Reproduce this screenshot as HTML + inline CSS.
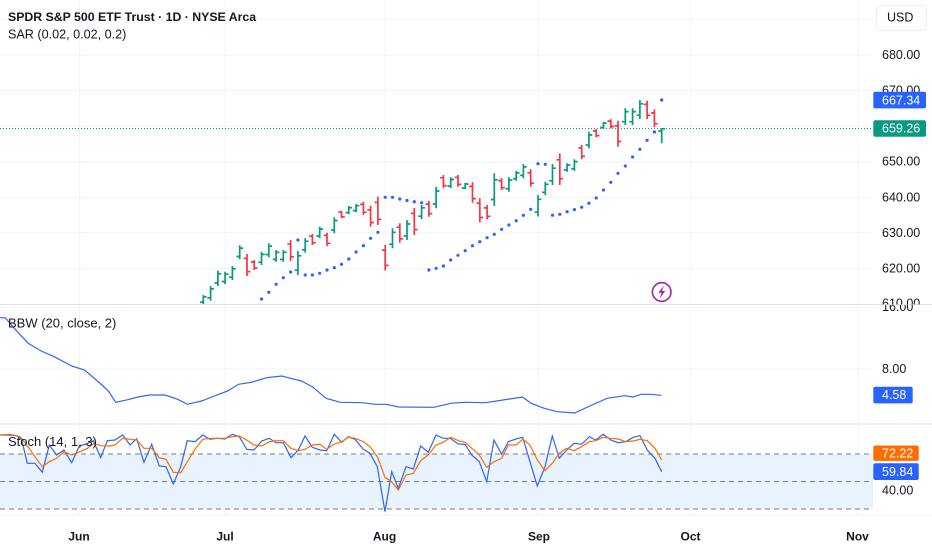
<!DOCTYPE html>
<html><head><meta charset="utf-8"><style>
html,body{margin:0;padding:0;background:#fff;}
svg{display:block;font-family:"Liberation Sans",Arial,sans-serif;}
</style></head><body>
<svg width="932" height="550" viewBox="0 0 932 550" xmlns="http://www.w3.org/2000/svg">
<defs>
<clipPath id="cm"><rect x="0" y="0" width="873" height="304.5"/></clipPath>
<clipPath id="cb"><rect x="0" y="305" width="873" height="119"/></clipPath>
<clipPath id="cs"><rect x="0" y="424.5" width="873" height="90"/></clipPath>
<clipPath id="c610"><rect x="873" y="290" width="59" height="14.5"/></clipPath>
<clipPath id="c16"><rect x="873" y="305" width="59" height="15"/></clipPath>
</defs>
<rect width="932" height="550" fill="#fff"/>
<g stroke="#f0f3fa" stroke-width="1">
<line x1="79.6" y1="0" x2="79.6" y2="515"/>
<line x1="225.1" y1="0" x2="225.1" y2="515"/>
<line x1="385.2" y1="0" x2="385.2" y2="515"/>
<line x1="538" y1="0" x2="538" y2="515"/>
<line x1="690.8" y1="0" x2="690.8" y2="515"/>
<line x1="858" y1="0" x2="858" y2="515"/>
</g>
<g stroke="#f0f3fa" stroke-width="1">
<line x1="0" y1="19.4" x2="873" y2="19.4"/>
<line x1="0" y1="55" x2="873" y2="55"/>
<line x1="0" y1="90.6" x2="873" y2="90.6"/>
<line x1="0" y1="126.1" x2="873" y2="126.1"/>
<line x1="0" y1="161.7" x2="873" y2="161.7"/>
<line x1="0" y1="197.3" x2="873" y2="197.3"/>
<line x1="0" y1="232.8" x2="873" y2="232.8"/>
<line x1="0" y1="268.4" x2="873" y2="268.4"/>
<line x1="0" y1="307.5" x2="873" y2="307.5"/>
<line x1="0" y1="369" x2="873" y2="369"/>
<line x1="0" y1="490.7" x2="873" y2="490.7"/>
</g>
<g stroke="#e0e3eb" stroke-width="1">
<line x1="0" y1="304.5" x2="932" y2="304.5"/>
<line x1="0" y1="424" x2="932" y2="424"/>
<line x1="0" y1="515" x2="932" y2="515" stroke="#f0f3fa"/>
</g>

<g clip-path="url(#cm)">
<line x1="0" y1="128.5" x2="873" y2="128.5" stroke="#089981" stroke-width="1" stroke-dasharray="1 2"/>
<path fill="none" stroke="#089981" stroke-width="1.7" d="M203.3 295V304M200 302.2h3.3M203.3 296.8h3.3
M210.6 286V300.7M207.3 297.8h3.3M210.6 288.9h3.3
M217.9 270.7V286M214.6 282.9h3.3M217.9 273.8h3.3
M225.1 271.7V284M221.8 281.5h3.3M225.1 274.2h3.3
M232.4 266V280M229.1 277.2h3.3M232.4 268.8h3.3
M239.7 245.3V259.3M236.4 256.5h3.3M239.7 248.1h3.3
M261.5 251.7V265M258.2 262.3h3.3M261.5 254.4h3.3
M268.8 243.3V257.3M265.5 254.5h3.3M268.8 246.1h3.3
M276.1 250V261.7M272.8 259.4h3.3M276.1 252.3h3.3
M283.3 250V261.7M280 259.4h3.3M283.3 252.3h3.3
M297.9 251V275M294.6 270.2h3.3M297.9 255.8h3.3
M305.2 238.3V252.7M301.9 249.8h3.3M305.2 241.2h3.3
M319.7 226.7V238.3M316.4 236h3.3M319.7 229h3.3
M334.3 217.3V233.3M331 230.1h3.3M334.3 220.5h3.3
M348.8 206V214.3M345.5 212.6h3.3M348.8 207.7h3.3
M356.1 204V212.3M352.8 210.6h3.3M356.1 205.7h3.3
M392.5 228.3V248.3M389.2 244.3h3.3M392.5 232.3h3.3
M407 220V240M403.7 236h3.3M407 224h3.3
M421.6 205V219M418.3 216.2h3.3M421.6 207.8h3.3
M436.1 186.7V208.3M432.8 204h3.3M436.1 191h3.3
M450.7 177.3V188.3M447.4 186.1h3.3M450.7 179.5h3.3
M465.2 182.7V189.3M461.9 188h3.3M465.2 184h3.3
M494.3 173.3V206M491 199.5h3.3M494.3 179.8h3.3
M508.9 177.3V191.7M505.6 188.8h3.3M508.9 180.2h3.3
M516.2 171V180.7M512.9 178.8h3.3M516.2 172.9h3.3
M523.4 164V178.3M520.1 175.4h3.3M523.4 166.9h3.3
M538 195V216.5M534.7 212.2h3.3M538 199.3h3.3
M545.3 181.7V195M542 192.3h3.3M545.3 184.4h3.3
M552.5 164V185M549.2 180.8h3.3M552.5 168.2h3.3
M567.1 163.3V171.7M563.8 170h3.3M567.1 165h3.3
M574.4 159.3V171M571.1 168.7h3.3M574.4 161.6h3.3
M588.9 131.7V148.3M585.6 145h3.3M588.9 135h3.3
M603.5 121.7V129M600.2 127.5h3.3M603.5 123.2h3.3
M625.3 108.3V125M622 121.7h3.3M625.3 111.6h3.3
M632.6 108.3V125M629.3 121.7h3.3M632.6 111.6h3.3
M639.9 100V119M636.6 115.2h3.3M639.9 103.8h3.3
M661.7 128.3V143.3M658.4 131h3.3M661.7 128.8h3.3"/>
<path fill="none" stroke="#f23645" stroke-width="1.7" d="M247 254V276M243.7 258.4h3.3M247 271.6h3.3
M254.2 260V270M250.9 262h3.3M254.2 268h3.3
M290.6 240V261M287.3 244.2h3.3M290.6 256.8h3.3
M312.4 234V245M309.1 236.2h3.3M312.4 242.8h3.3
M327 232.7V246M323.7 235.4h3.3M327 243.3h3.3
M341.5 210.7V218.3M338.2 212.2h3.3M341.5 216.8h3.3
M363.4 201.7V215M360.1 204.4h3.3M363.4 212.3h3.3
M370.6 205.7V226.7M367.3 209.9h3.3M370.6 222.5h3.3
M377.9 196.7V225M374.6 202.4h3.3M377.9 219.3h3.3
M385.2 245V270.5M381.9 250.1h3.3M385.2 265.4h3.3
M399.8 223.3V242.7M396.5 227.2h3.3M399.8 238.8h3.3
M414.3 208V235M411 213.4h3.3M414.3 229.6h3.3
M428.9 201V216.7M425.6 204.1h3.3M428.9 213.6h3.3
M443.4 175V188.3M440.1 177.7h3.3M443.4 185.6h3.3
M458 175V186.7M454.7 177.3h3.3M458 184.4h3.3
M472.5 182.3V202.7M469.2 186.4h3.3M472.5 198.6h3.3
M479.8 198.3V222.3M476.5 203.1h3.3M479.8 217.5h3.3
M487.1 205V219.3M483.8 207.9h3.3M487.1 216.4h3.3
M501.6 178.3V190M498.3 180.6h3.3M501.6 187.7h3.3
M530.7 169.3V186.7M527.4 172.8h3.3M530.7 183.2h3.3
M559.8 153.5V185M556.5 159.8h3.3M559.8 178.7h3.3
M581.7 145V159.3M578.4 147.9h3.3M581.7 156.4h3.3
M596.2 129.3V137.3M592.9 130.9h3.3M596.2 135.7h3.3
M610.8 119.3V128.3M607.5 121.1h3.3M610.8 126.5h3.3
M618 120.7V146.7M614.7 125.9h3.3M618 141.5h3.3
M647.1 100.7V119M643.8 104.4h3.3M647.1 115.3h3.3
M654.4 109.3V127.3M651.1 112.9h3.3M654.4 123.7h3.3"/>
<g fill="#2962ff">
<circle cx="261.5" cy="299" r="1.6"/><circle cx="268.8" cy="292.3" r="1.6"/><circle cx="276.1" cy="284.3" r="1.6"/><circle cx="283.3" cy="277.7" r="1.6"/><circle cx="290.6" cy="272" r="1.6"/><circle cx="297.9" cy="240" r="1.6"/><circle cx="305.2" cy="275" r="1.6"/><circle cx="312.4" cy="275" r="1.6"/><circle cx="319.7" cy="273.3" r="1.6"/><circle cx="327" cy="270" r="1.6"/><circle cx="334.3" cy="267.7" r="1.6"/><circle cx="341.5" cy="264.3" r="1.6"/><circle cx="348.8" cy="259" r="1.6"/><circle cx="356.1" cy="252" r="1.6"/><circle cx="363.4" cy="245.7" r="1.6"/><circle cx="370.6" cy="238.3" r="1.6"/><circle cx="377.9" cy="232.3" r="1.6"/>
<circle cx="385.2" cy="197.3" r="1.6"/><circle cx="392.5" cy="197.3" r="1.6"/><circle cx="399.8" cy="199" r="1.6"/><circle cx="407" cy="200.5" r="1.6"/><circle cx="414.3" cy="201.7" r="1.6"/><circle cx="421.6" cy="202.7" r="1.6"/>
<circle cx="428.9" cy="270" r="1.6"/><circle cx="436.1" cy="268.3" r="1.6"/><circle cx="443.4" cy="266" r="1.6"/><circle cx="450.7" cy="260" r="1.6"/><circle cx="458" cy="255.3" r="1.6"/><circle cx="465.2" cy="250.7" r="1.6"/><circle cx="472.5" cy="245.7" r="1.6"/><circle cx="479.8" cy="241.7" r="1.6"/><circle cx="487.1" cy="237.7" r="1.6"/><circle cx="494.3" cy="234.3" r="1.6"/><circle cx="501.6" cy="229.3" r="1.6"/><circle cx="508.9" cy="225" r="1.6"/><circle cx="516.2" cy="220.7" r="1.6"/><circle cx="523.4" cy="215.3" r="1.6"/><circle cx="530.7" cy="209.3" r="1.6"/>
<circle cx="538" cy="163.7" r="1.6"/><circle cx="545.3" cy="164.3" r="1.6"/>
<circle cx="552.5" cy="215.2" r="1.6"/><circle cx="559.8" cy="214.3" r="1.6"/><circle cx="567.1" cy="211.7" r="1.6"/><circle cx="574.4" cy="209.6" r="1.6"/><circle cx="581.7" cy="207.2" r="1.6"/><circle cx="588.9" cy="203.2" r="1.6"/><circle cx="596.2" cy="198" r="1.6"/><circle cx="603.5" cy="190" r="1.6"/><circle cx="610.8" cy="182.3" r="1.6"/><circle cx="618" cy="173.3" r="1.6"/><circle cx="625.3" cy="166" r="1.6"/><circle cx="632.6" cy="157" r="1.6"/><circle cx="639.9" cy="149.3" r="1.6"/><circle cx="647.1" cy="140.3" r="1.6"/><circle cx="654.4" cy="132" r="1.6"/>
<circle cx="661.7" cy="100" r="1.6"/>
</g>
<circle cx="661.7" cy="292" r="9.3" fill="#fff" stroke="#9c27b0" stroke-width="1.6"/>
<path d="M664 285.5L658.3 292.8H661.6L659.6 298.5L665.3 291H662Z" fill="#9c27b0"/>
</g>
<text x="8" y="21" font-size="12.3" font-weight="bold" fill="#131722">SPDR S&amp;P 500 ETF Trust · 1D · NYSE Arca</text>
<text x="8" y="38.5" font-size="12.6" fill="#131722">SAR (0.02, 0.02, 0.2)</text>

<g clip-path="url(#cb)">
<polyline fill="none" stroke="#2f66f2" stroke-width="1.2" points="0,317.7 5.2,317.7 17.3,331.7 28.2,343.3 41.2,351 54.2,356.7 71.6,366 84.6,370 101.9,385 108.4,391 115.8,402.3 127.9,399.7 137.9,397 149.6,395 164.8,395 177.8,399.3 187.3,404.3 201.6,401 216.8,395 227.7,391 238.5,384.3 251.5,382.3 266.7,377.7 281.9,376 290.5,378.3 301.4,381 312.2,386.7 326.1,398.3 340.4,402.3 362.1,402.7 375.1,404.3 386,404.3 399,407 433.7,407.3 451,403.3 464,402.3 485.7,402.7 503,400 522.5,397 531.2,403.3 544.2,408.3 557.2,411.7 574.6,413 589.8,406 607.1,398.3 624.5,395.7 633.1,397 641,394.3 650.5,394.3 661.3,395.3"/>
</g>
<text x="8" y="327.5" font-size="13" fill="#131722">BBW (20, close, 2)</text>

<rect x="0" y="454" width="873" height="55" fill="#e9f3fd"/>
<g stroke="#787b86" stroke-width="1" stroke-dasharray="5 4">
<line x1="0" y1="454" x2="873" y2="454"/>
<line x1="0" y1="481.5" x2="873" y2="481.5"/>
<line x1="0" y1="509" x2="873" y2="509"/>
</g>
<g clip-path="url(#cs)" fill="none" stroke-width="1.2">
<polyline stroke="#2f66f2" points="0,435 6.7,435 16.7,435.7 21.7,440 27.3,463.3 35,463.3 42.3,472.3 49.3,445 56.7,455 64,450 71.7,462.7 79.3,446 86,444 93.3,440.7 100.7,457.7 107.3,440.7 115,440 122.7,435 130,445 136.7,438.7 144,462.3 151.7,444.3 159.3,466 166,466.7 173.3,484 180.7,466.7 187.3,440.7 195,441.7 202.7,435 210,439.3 217.3,438.3 225,439 232.3,434.3 239.3,436.7 246.7,449.3 254,450 261.7,441 269.3,438.3 276,442.7 283.3,442.7 291,457.7 298.3,450 305,436 312.3,447.3 320,450 326.7,450.7 334.3,434.3 341.7,442.3 348.3,436.7 355,439.3 363.3,449.3 370,453.3 377.3,466.7 385,511.7 391.7,471.7 398.3,488.3 406,466.7 413.3,469 420.7,446 428.3,452.3 436,435 443.3,438.3 450,438.3 458.3,444 465,444.3 471.7,455 479.3,461.7 486.7,481.7 494,440 501.7,454.3 508.3,441.7 516,439 522.7,437.3 530,461.7 537.3,486 545,466.7 552.3,436 559.3,458.3 566.7,450 574,443.3 581.7,444.3 589.3,436.7 595.7,440 603.3,434.3 610.7,440 618.3,442.7 625.7,441.7 633.3,437.3 640,435.7 647.3,450 655,458.3 661.7,471.7"/>
<polyline stroke="#ff6d00" points="0,435 10,434.3 20,436.7 26.7,445 35,456.7 42.3,466.7 49.3,461.7 56.7,458.3 64,451.7 71.7,455 80,451.7 87.3,448.3 94,443.3 100.7,445.7 110,446 115,445 122.7,438.3 130,439.3 136.7,440 144,448.3 151.7,448.3 159.3,457.7 166,459.3 173.3,472.3 180.7,472.7 187.3,461.7 195,449.3 202.7,439.3 210,438.3 217.3,438.3 225,438.3 232.3,436.7 239.3,436 246.7,440 254,445 261.7,446 269.3,441.7 276,440.7 283.3,440.7 291,448.3 298.3,450.7 305,449.3 312.3,445 320,444.3 326.7,449.3 334.3,444 341.7,441.7 348.3,437.3 355,438.3 363.3,441.7 370,446.7 377.3,456.7 385,477.3 391.7,481.7 398.3,490 406,475 413.3,473.3 420.7,460.7 428.3,455 436,445 443.3,442.3 450.7,437.3 458.3,440.7 465,442.3 471.7,448.3 479.3,455 486.7,467.3 494,461.7 501.7,458.3 508.3,445 516,445 522.7,439.3 530,445 537.3,460 545,470.7 552.3,463.3 559.3,453.3 566.7,448.3 574,450.7 581.7,446.7 589.3,441.7 595.7,440.7 603.3,437.3 610.7,438.3 618.3,439 625.7,441.7 633.3,441 640,439.3 647.3,440.7 655,448.3 661.7,460"/>
</g>
<text x="8" y="446" font-size="13" fill="#131722">Stoch (14, 1, 3)</text>

<rect x="876.5" y="5.5" width="50" height="25" rx="4" fill="#fff" stroke="#eceef2"/>
<g font-size="12.5" fill="#131722" dominant-baseline="central">
<text x="887" y="17.5">USD</text>
<text x="882" y="55">680.00</text>
<text x="882" y="90.6">670.00</text>
<text x="882" y="161.7">650.00</text>
<text x="882" y="197.3">640.00</text>
<text x="882" y="232.8">630.00</text>
<text x="882" y="268.4">620.00</text>
<text x="882" y="303.5" clip-path="url(#c610)">610.00</text>
<text x="882" y="307" clip-path="url(#c16)">16.00</text>
<text x="882" y="369">8.00</text>
<text x="882" y="490.7">40.00</text>
</g>
<rect x="873.3" y="91.8" width="52.7" height="16.6" rx="2" fill="#2962ff"/>
<rect x="873.3" y="120.2" width="52.7" height="16.6" rx="2" fill="#089981"/>
<rect x="873.3" y="386.8" width="39.4" height="16.6" rx="2" fill="#2962ff"/>
<rect x="873.3" y="445.5" width="45.4" height="15.4" rx="2" fill="#ff6d00"/>
<rect x="873.3" y="463.3" width="45.4" height="16.7" rx="2" fill="#2962ff"/>
<g font-size="12.5" fill="#fff" dominant-baseline="central">
<text x="882" y="100.3">667.34</text>
<text x="882" y="128.6">659.26</text>
<text x="882" y="395.2">4.58</text>
<text x="882" y="453.3">72.22</text>
<text x="882" y="471.8">59.84</text>
</g>

<g font-size="12" font-weight="bold" fill="#131722" text-anchor="middle">
<text x="79" y="540.5">Jun</text>
<text x="225" y="540.5">Jul</text>
<text x="384.5" y="540.5">Aug</text>
<text x="539" y="540.5">Sep</text>
<text x="690.5" y="540.5">Oct</text>
<text x="857.5" y="540.5">Nov</text>
</g>
</svg>
</body></html>
